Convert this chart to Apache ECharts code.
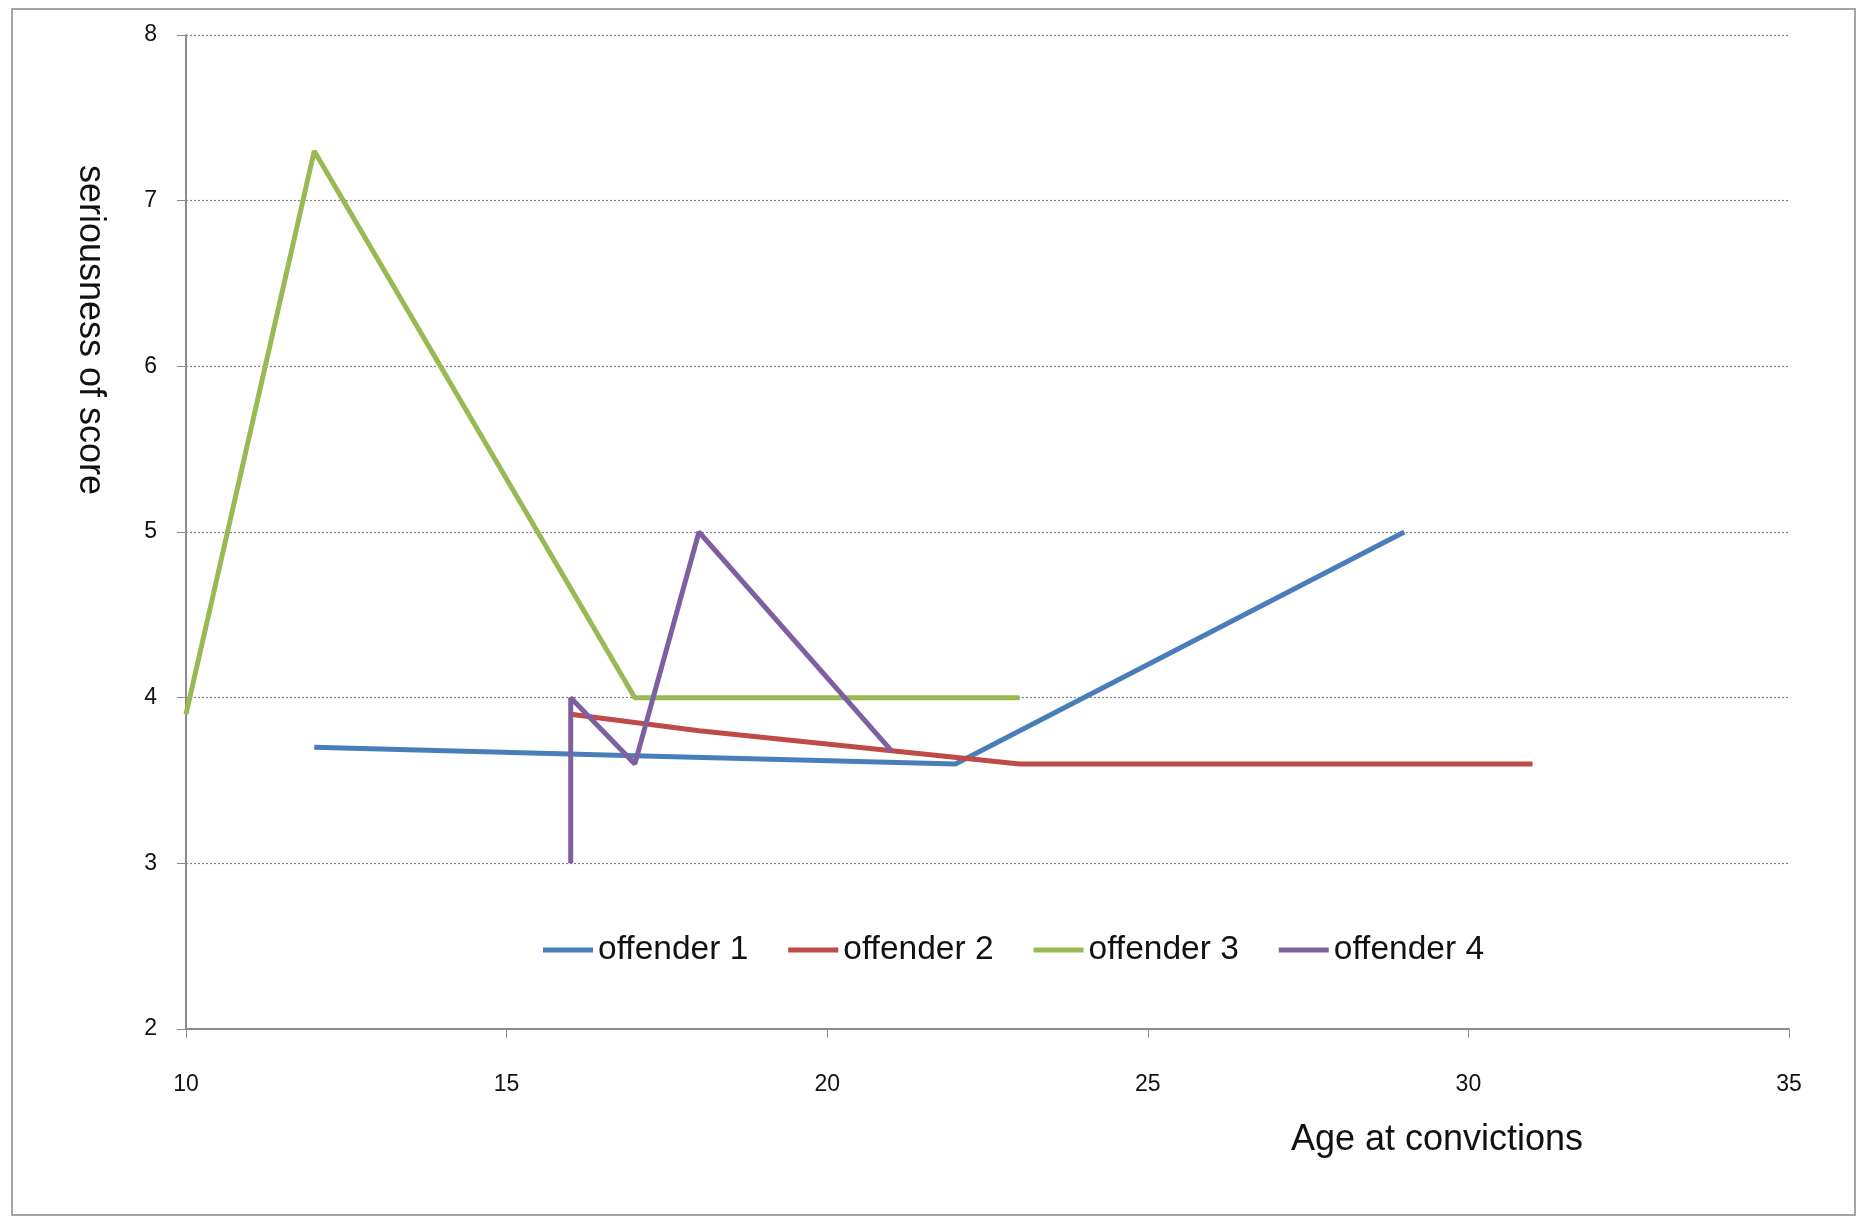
<!DOCTYPE html>
<html>
<head>
<meta charset="utf-8">
<script src="https://cdn.jsdelivr.net/npm/echarts@6/dist/echarts.min.js"></script>
<style>
html,body{margin:0;padding:0;background:#fff;}
#chart{width:1863px;height:1219px;}
</style>
</head>
<body>
<div id="chart"></div>
<script>
// Data
const seriesNames = ['offender 1', 'offender 2', 'offender 3', 'offender 4'];
const offender1Ages = [12, 17, 22, 29];
const offender1Scores = [3.7, 3.65, 3.6, 5];
const offender2Ages = [16, 18, 23, 31];
const offender2Scores = [3.9, 3.8, 3.6, 3.6];
const offender3Ages = [10, 12, 17, 23];
const offender3Scores = [3.9, 7.3, 4, 4];
const offender4Ages = [16, 16, 17, 18, 21];
const offender4Scores = [3, 4, 3.6, 5, 3.68];
const xTicks = [10, 15, 20, 25, 30, 35];
const yTicks = [2, 3, 4, 5, 6, 7, 8];
const colors = ['#4A7EBB', '#BE4B48', '#98B954', '#7D60A0'];

const agesList = [offender1Ages, offender2Ages, offender3Ages, offender4Ages];
const scoresList = [offender1Scores, offender2Scores, offender3Scores, offender4Scores];

const chart = echarts.init(document.getElementById('chart'));
const font = '"Liberation Sans", Arial, sans-serif';

const series = seriesNames.map((name, i) => ({
  name: name,
  type: 'line',
  data: agesList[i].map((a, j) => [a, scoresList[i][j]]),
  showSymbol: false,
  symbol: 'none',
  lineStyle: { color: colors[i], width: 5 },
  itemStyle: { color: colors[i] },
  emphasis: { disabled: true },
  animation: false
}));

chart.setOption({
  animation: false,
  backgroundColor: '#fff',
  grid: { left: 186, right: 74, top: 35, bottom: 190, containLabel: false },
  xAxis: {
    type: 'value',
    min: xTicks[0], max: xTicks[xTicks.length - 1], interval: 5,
    axisLine: { show: true, lineStyle: { color: '#8c8c8c', width: 2 } },
    axisTick: { show: true, inside: false, length: 9, lineStyle: { color: '#8c8c8c', width: 1 } },
    axisLabel: { margin: 44, fontSize: 23, color: '#111', fontFamily: font },
    splitLine: { show: false }
  },
  yAxis: {
    type: 'value',
    min: yTicks[0], max: yTicks[yTicks.length - 1], interval: 1,
    axisLine: { show: true, lineStyle: { color: '#8c8c8c', width: 2 } },
    axisTick: { show: true, inside: false, length: 9, lineStyle: { color: '#8c8c8c', width: 1 } },
    axisLabel: { margin: 29, fontSize: 23, color: '#111', fontFamily: font },
    splitLine: { show: true, lineStyle: { color: '#808080', width: 1.2, type: [2, 2] } }
  },
  legend: {
    data: seriesNames,
    left: 543, top: 932,
    padding: 0,
    itemGap: 40,
    itemWidth: 50, itemHeight: 5,
    icon: 'rect',
    textStyle: { fontSize: 33.5, color: '#111', fontFamily: font, lineHeight: 36 }
  },
  graphic: [
    {
      type: 'rect',
      shape: { x: 12, y: 9, width: 1843, height: 1206 },
      style: { fill: 'none', stroke: '#a6a6a6', lineWidth: 2 },
      silent: true, z: -1
    },
    {
      type: 'text',
      x: 90, y: 330,
      rotation: -Math.PI / 2,
      style: {
        text: 'seriousness of score',
        fontSize: 36, fontFamily: font, fill: '#111',
        align: 'center', verticalAlign: 'middle'
      }
    },
    {
      type: 'text',
      x: 1437, y: 1140,
      style: {
        text: 'Age at convictions',
        fontSize: 36, fontFamily: font, fill: '#111',
        align: 'center', verticalAlign: 'middle'
      }
    }
  ],
  series: series
});
</script>
</body>
</html>
